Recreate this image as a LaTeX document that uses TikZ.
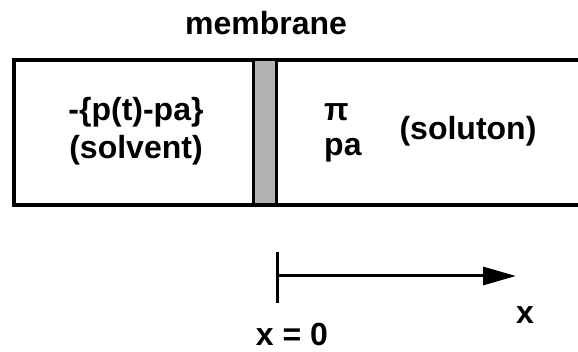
\documentclass[tikz,border=0pt]{standalone}
\usepackage{fontspec}
\setmainfont{Liberation Sans}
\usetikzlibrary{arrows.meta}
\begin{document}
\begin{tikzpicture}[x=1pt,y=-1pt,
  lbl/.style={inner sep=0pt,font=\fontsize{32}{38}\selectfont\bfseries},
  frame/.style={line width=3.5pt},
  memb/.style={line width=3pt,fill=gray!60}]
\useasboundingbox (0,0) rectangle (578,352);
\draw[frame] (14,60) rectangle (590,205);
\draw[memb] (253.5,60) rectangle (276.5,205);
\node[lbl,anchor=base] (mem) at (266,35) {membrane};
\node[lbl] (p) at (136,112) {-\{p(t)-pa\}};
\node[lbl] (sv) at (136,150) {(solvent)};
\node[lbl,anchor=west] (pi) at (324,112) {π};
\node[lbl,anchor=west] (pa) at (324,150) {pa};
\node[lbl] (sl) at (468,131) {(soluton)};
\coordinate (o) at (277,276);
\coordinate (e) at (516,276);
\draw[line width=3pt] (277,252) -- (277,303);
\draw[line width=3pt,-{Triangle[length=33pt,width=18pt]}] (o) -- (e);
\node[lbl] (x) at (525,315) {x};
\node[lbl] (x0) at (292,334) {x = 0};
\end{tikzpicture}
\end{document}
